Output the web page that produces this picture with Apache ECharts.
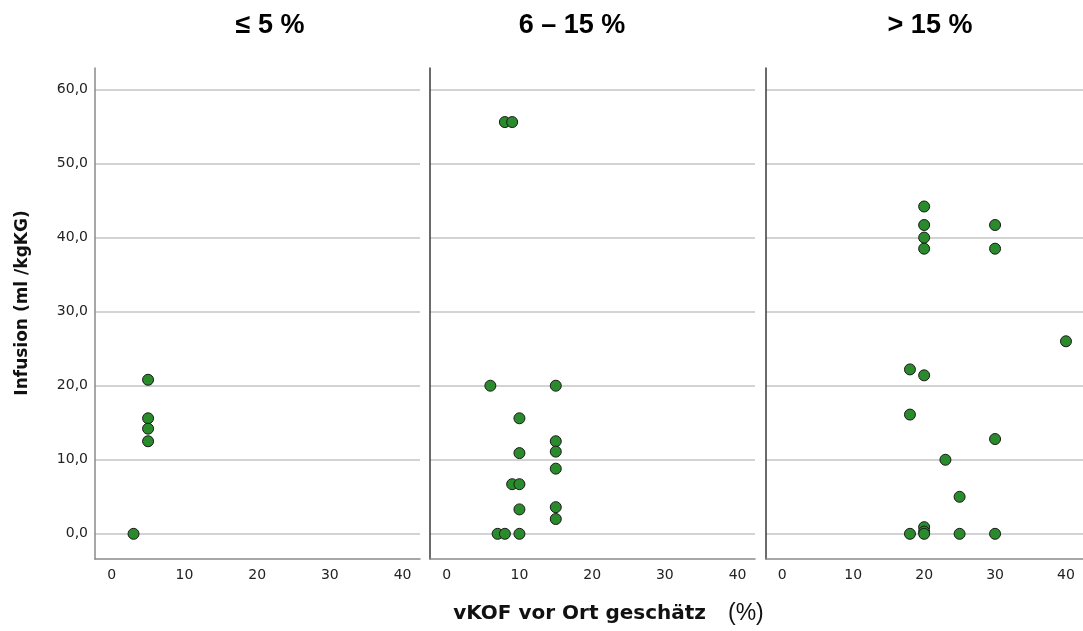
<!DOCTYPE html>
<html>
<head>
<meta charset="utf-8">
<script src="https://cdn.jsdelivr.net/npm/echarts@6/dist/echarts.min.js"></script>
<style>
  html, body { margin: 0; padding: 0; background: #fff; }
  #chart { width: 1083px; height: 631px; }
</style>
</head>
<body>
<div id="chart"></div>
<script>
// Panel headings (estimated burn area groups)
const panelTitles = ['\u2264 5 %', '6 \u2013 15 %', '> 15 %'];

// Points per panel: [vKOF %, Infusion ml/kgKG]
const groupLow = [
  [3, 0], [5, 20.8], [5, 15.6], [5, 14.2], [5, 12.5]
];
const groupMid = [
  [8, 55.6], [9, 55.6],
  [6, 20.0], [15, 20.0], [10, 15.6], [15, 12.5], [15, 11.1], [10, 10.9],
  [15, 8.8], [9, 6.7], [10, 6.7], [10, 3.3], [15, 3.6], [15, 2.0],
  [7, 0], [8, 0], [10, 0]
];
const groupHigh = [
  [20, 44.2], [20, 41.7], [20, 40.0], [20, 38.5], [30, 41.7], [30, 38.5],
  [40, 26.0], [18, 22.2], [20, 21.4], [18, 16.1], [30, 12.8], [23, 10.0],
  [25, 5.0], [18, 0], [20, 0.9], [20, 0.3], [20, 0], [25, 0], [30, 0]
];
const groups = [groupLow, groupMid, groupHigh];

// Axis ranges
const xRange = [-2.3, 42.4];
const yRange = [-3.4, 62.9];
const yAxisTitle = 'Infusion (ml /kgKG)';
const xAxisTitleBold = 'vKOF vor Ort geschätz';
const xAxisTitleUnit = '(%)';

const panelLeft = [95, 430, 766];
const panelWidth = 325;
const panelTop = 68;
const panelBottom = 559;

const tickFont = 'DejaVu Sans';
const grids = [], xAxes = [], yAxes = [], series = [];

groups.forEach((pts, i) => {
  grids.push({
    left: panelLeft[i], top: panelTop,
    width: panelWidth, height: panelBottom - panelTop
  });
  xAxes.push({
    type: 'value', gridIndex: i,
    min: xRange[0], max: xRange[1],
    minInterval: 10, maxInterval: 10,
    axisLine: { show: true, onZero: false, lineStyle: { color: '#8a8a8a', width: 1.5 } },
    axisTick: { show: false },
    splitLine: { show: false },
    axisLabel: {
      showMinLabel: false, showMaxLabel: false,
      color: '#222', fontFamily: tickFont, fontSize: 14, margin: 9
    }
  });
  yAxes.push({
    type: 'value', gridIndex: i,
    min: yRange[0], max: yRange[1],
    minInterval: 10, maxInterval: 10,
    axisLine: { show: true, onZero: false,
      lineStyle: { color: i === 0 ? '#8a8a8a' : '#3a3a3a', width: 1.5 } },
    axisTick: { show: false },
    splitLine: {
      show: true, showMinLine: false, showMaxLine: false,
      lineStyle: { color: '#d3d3d3', width: 2 }
    },
    axisLabel: {
      show: i === 0,
      showMinLabel: false, showMaxLabel: false,
      color: '#222', fontFamily: tickFont, fontSize: 14, margin: 7,
      formatter: v => v.toFixed(1).replace('.', ',')
    }
  });
  series.push({
    type: 'scatter', xAxisIndex: i, yAxisIndex: i,
    data: pts, symbol: 'circle', symbolSize: 11,
    itemStyle: { color: '#298b2b', opacity: 1, borderColor: '#1a1a1a', borderWidth: 1 },
    emphasis: { disabled: true },
    silent: true
  });
});

const titleCenters = [270, 572, 930];
const graphics = panelTitles.map((t, i) => ({
  type: 'text', x: titleCenters[i], y: 26,
  style: {
    text: t, textAlign: 'center', textVerticalAlign: 'middle',
    font: 'bold 27px "Liberation Sans", Arial, sans-serif', fill: '#000'
  }
}));
graphics.push({
  type: 'text', x: 23, y: 303, rotation: Math.PI / 2,
  style: {
    text: yAxisTitle, textAlign: 'center', textVerticalAlign: 'middle',
    font: 'bold 17px "DejaVu Sans", sans-serif', fill: '#111'
  }
});
graphics.push({
  type: 'text', x: 706, y: 614,
  style: {
    text: xAxisTitleBold, textAlign: 'right', textVerticalAlign: 'middle',
    font: 'bold 20px "DejaVu Sans", sans-serif', fill: '#111'
  }
});
graphics.push({
  type: 'text', x: 728, y: 614,
  style: {
    text: xAxisTitleUnit, textAlign: 'left', textVerticalAlign: 'middle',
    font: '23px "Liberation Sans", Arial, sans-serif', fill: '#111'
  }
});

const chart = echarts.init(document.getElementById('chart'), null, { renderer: 'canvas' });
chart.setOption({
  backgroundColor: '#fff',
  animation: false,
  grid: grids,
  xAxis: xAxes,
  yAxis: yAxes,
  series: series,
  graphic: graphics
});
</script>
</body>
</html>
